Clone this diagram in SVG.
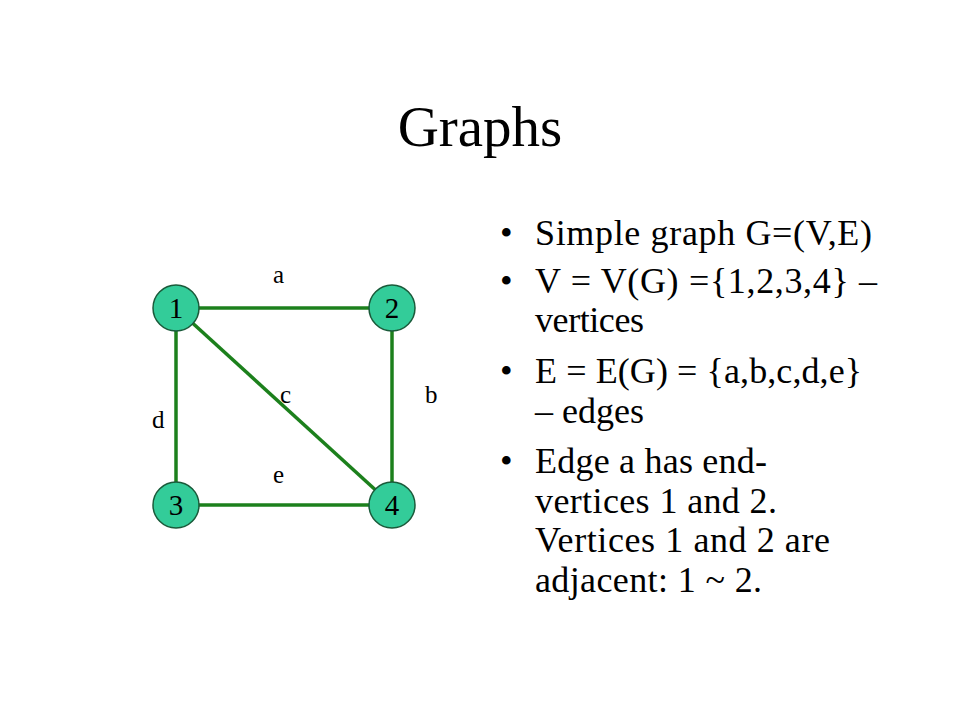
<svg xmlns="http://www.w3.org/2000/svg" width="960" height="720" viewBox="0 0 960 720">
<style>
.t{font-family:"Liberation Serif","Times New Roman",serif;fill:#000}
.title{font-size:57px;text-anchor:middle}
.b{font-size:36px}
.lbl{font-size:25px}
.num{font-size:29px;text-anchor:middle}
.node{fill:#33CC99;stroke:#1a5a3a;stroke-width:1.5}
.edge{stroke:#1c801c;stroke-width:3.5;fill:none}
</style>
<rect width="960" height="720" fill="#fff"/>
<text class="t title" x="480" y="146">Graphs</text>
<g id="edges">
<line class="edge" x1="176" y1="308" x2="392" y2="308"/>
<line class="edge" x1="392" y1="308" x2="392" y2="505"/>
<line class="edge" x1="176" y1="308" x2="392" y2="505"/>
<line class="edge" x1="176" y1="308" x2="176" y2="505"/>
<line class="edge" x1="176" y1="505" x2="392" y2="505"/>
<text class="t lbl" x="273" y="283">a</text>
<text class="t lbl" x="425" y="403">b</text>
<text class="t lbl" x="280" y="403">c</text>
<text class="t lbl" x="152" y="428">d</text>
<text class="t lbl" x="273" y="483">e</text>
</g>
<g id="n1"><circle class="node" cx="176" cy="308" r="23"/><text class="t num" x="176" y="318">1</text></g>
<g id="n2"><circle class="node" cx="392" cy="308" r="23"/><text class="t num" x="392" y="318">2</text></g>
<g id="n3"><circle class="node" cx="176" cy="505" r="23"/><text class="t num" x="176" y="515">3</text></g>
<g id="n4"><circle class="node" cx="392" cy="505" r="23"/><text class="t num" x="392" y="515">4</text></g>
<g id="bullets">
<text class="t b" x="500" y="245">•</text>
<text class="t b" x="500" y="293">•</text>
<text class="t b" x="500" y="383">•</text>
<text class="t b" x="500" y="473">•</text>
<text class="t b" x="535" y="245" textLength="337" lengthAdjust="spacing">Simple graph G=(V,E)</text>
<text class="t b" x="535" y="293" textLength="342" lengthAdjust="spacing">V = V(G) ={1,2,3,4} –</text>
<text class="t b" x="535" y="332" textLength="109" lengthAdjust="spacing">vertices</text>
<text class="t b" x="535" y="383" textLength="327" lengthAdjust="spacing">E = E(G) = {a,b,c,d,e}</text>
<text class="t b" x="535" y="423" textLength="109" lengthAdjust="spacing">– edges</text>
<text class="t b" x="535" y="473" textLength="232" lengthAdjust="spacing">Edge a has end-</text>
<text class="t b" x="535" y="513" textLength="242" lengthAdjust="spacing">vertices 1 and 2.</text>
<text class="t b" x="535" y="552" textLength="295" lengthAdjust="spacing">Vertices 1 and 2 are</text>
<text class="t b" x="535" y="592" textLength="227" lengthAdjust="spacing">adjacent: 1 ~ 2.</text>
</g>
</svg>
